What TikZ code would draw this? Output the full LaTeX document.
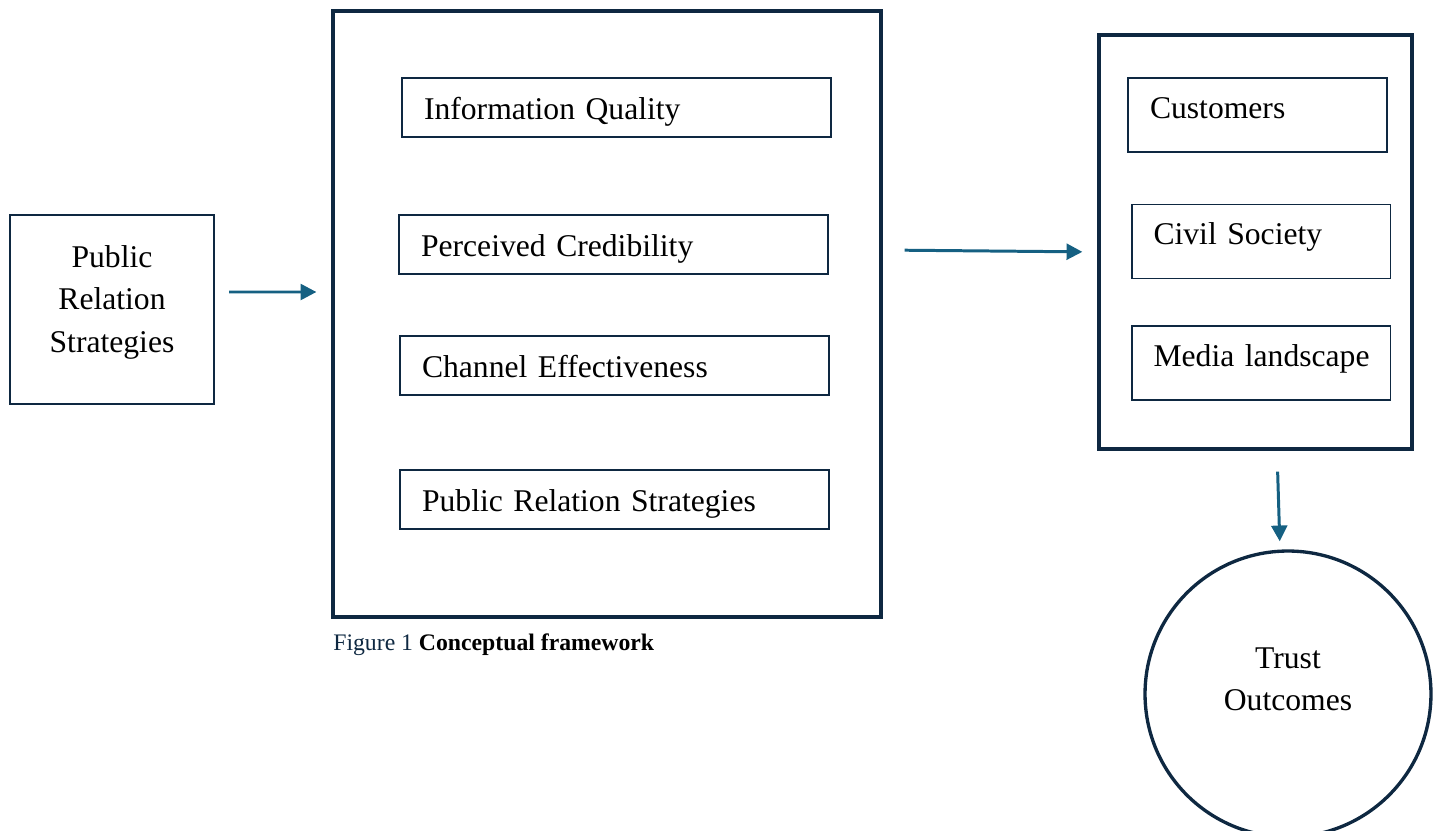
\documentclass[tikz,border=0pt]{standalone}
\usepackage{fontspec}
\setmainfont{Liberation Serif}
\usetikzlibrary{arrows.meta}
\definecolor{navy}{HTML}{0E2841}
\definecolor{arrowblue}{HTML}{156082}

\begin{document}
\begin{tikzpicture}[x=0.02cm, y=-0.02cm, font=\fontsize{18}{24}\selectfont]
\tikzstyle{frame}=[draw=navy, line width=1.9pt]
\tikzstyle{factor}=[draw=navy, line width=1.1pt, align=left, inner xsep=0.44cm,
  minimum width=8.58cm, minimum height=1.18cm, text width=7.7cm, text height=14pt, text depth=0pt]
\tikzstyle{group}=[factor, minimum width=5.18cm, minimum height=1.48cm, text width=4.3cm,
  text height=12pt, text depth=8.5pt]
\tikzstyle{flow}=[-{Triangle[length=9pt,width=9pt]}, draw=arrowblue, line width=1.7pt]
\useasboundingbox (0,0) rectangle (1441,831);

% input
\node[draw=navy, line width=1.4pt, minimum width=4.08cm, minimum height=3.78cm,
  align=center, text depth=12pt] (prs) at (112,309.5) {Public\\Relation\\Strategies};

% factors
\node[frame, minimum width=10.96cm, minimum height=12.12cm] (factors) at (607,314) {};
\node[factor] (quality)     at (616.5,107.5) {Information Quality};
\node[factor] (credibility) at (613.5,244.5) {Perceived Credibility};
\node[factor] (channel)     at (614.5,365.5) {Channel Effectiveness};
\node[factor] (strategies)  at (614.5,499.5) {Public Relation Strategies};
\node[anchor=base west, inner sep=0pt, text=navy, font=\fontsize{13.5}{16}\selectfont]
  (caption) at (333,650) {Figure 1 \textcolor{black}{\textbf{Conceptual framework}}};

% stakeholders
\node[frame, minimum width=6.26cm, minimum height=8.28cm] (groups) at (1255.5,242) {};
\node[group] (customers) at (1257.5,115) {Customers};
\node[group] (civil)     at (1261,241.5) {Civil Society};
\node[group] (media)     at (1261,363)   {\mbox{Media landscape}};

% outcome
\node[circle, frame, minimum size=5.72cm, align=center, text depth=17pt] (trust) at (1288,694) {Trust\\Outcomes};

\draw[flow, shorten <=0.28cm, shorten >=0.3cm] ([yshift=0.35cm]prs.east) -- ([yshift=0.44cm]factors.west);
\draw[flow, shorten <=0.44cm, shorten >=0.3cm] ([yshift=1.28cm]factors.east) -- ([yshift=-0.2cm]groups.west);
\draw[flow, shorten <=0.42cm, shorten >=0.16cm] ([xshift=0.43cm]groups.south) -- ([xshift=-0.16cm]trust.north);
\end{tikzpicture}
\end{document}
